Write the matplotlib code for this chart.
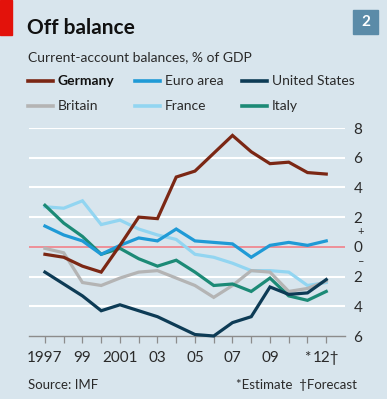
import matplotlib

matplotlib.use("Agg")
import matplotlib.pyplot as plt
from matplotlib.lines import Line2D

years = list(range(1997, 2013))

germany = [-0.5, -0.7, -1.3, -1.7, 0.1, 2.0, 1.9, 4.7, 5.1, 6.3, 7.5, 6.4, 5.6, 5.7, 5.0, 4.9]
euro_area = [1.4, 0.8, 0.4, -0.5, 0.1, 0.6, 0.4, 1.2, 0.4, 0.3, 0.2, -0.7, 0.1, 0.3, 0.1, 0.4]
united_states = [-1.7, -2.5, -3.3, -4.3, -3.9, -4.3, -4.7, -5.3, -5.9, -6.0, -5.1, -4.7, -2.7, -3.2, -3.1, -2.2]
britain = [-0.1, -0.4, -2.4, -2.6, -2.1, -1.7, -1.6, -2.1, -2.6, -3.4, -2.6, -1.6, -1.7, -3.0, -2.8, -2.3]
france = [2.7, 2.6, 3.1, 1.5, 1.8, 1.2, 0.8, 0.5, -0.5, -0.7, -1.1, -1.6, -1.6, -1.7, -2.6, -2.4]
italy = [2.8, 1.6, 0.7, -0.5, -0.1, -0.8, -1.3, -0.9, -1.7, -2.6, -2.5, -3.0, -2.1, -3.3, -3.6, -3.0]

y_ticks = [8, 6, 4, 2, 0, -2, -4, -6]
y_tick_labels = ["8", "6", "4", "2", "0", "2", "4", "6"]
x_label_years = [1997, 1999, 2001, 2003, 2005, 2007, 2009, 2011, 2012]
x_labels = ["1997", "99", "2001", "03", "05", "07", "09", "*", "12\u2020"]

BG = "#d8e5ed"
TXT = "#2a2a2a"
FONT = ["Lato", "DejaVu Sans"]
plt.rcParams["font.family"] = FONT

# (label, values, colour, bold label); listed in legend order
series = [
    ("Germany", germany, "#7b2714", True),
    ("Euro area", euro_area, "#1f9ad6", False),
    ("United States", united_states, "#0d3b55", False),
    ("Britain", britain, "#b4b4b4", False),
    ("France", france, "#92d5f1", False),
    ("Italy", italy, "#1c8a76", False),
]
draw_order = ["France", "Britain", "Italy", "Euro area", "United States", "Germany"]

W, H = 387, 399
fig = plt.figure(figsize=(W / 100, H / 100), dpi=100, facecolor=BG)

def fx(px):
    return px / W

def fy(py):
    return 1 - py / H

# red tag and chart number box
fig.patches.append(plt.Rectangle((0, fy(35)), fx(12), 35 / H, transform=fig.transFigure,
                                 color="#e3120b", zorder=5))
fig.patches.append(plt.Rectangle((fx(353), fy(34)), fx(25), 24 / H, transform=fig.transFigure,
                                 color="#5b8ba8", zorder=5))
fig.text(fx(365.5), fy(22), "2", color="white", fontsize=11, fontweight="bold",
         ha="center", va="center", zorder=6)

fig.text(fx(27), fy(28), "Off balance", fontsize=15, fontweight="bold", color="#111111",
         ha="left", va="center")
fig.text(fx(28), fy(57), "Current-account balances, % of GDP", fontsize=10, color=TXT,
         ha="left", va="center")

# legend, two rows of three
leg_x = [28, 135, 242]
leg_y = [81, 106]
for i, (name, vals, col, bold) in enumerate(series):
    x0 = leg_x[i % 3]
    y0 = leg_y[i // 3]
    fig.add_artist(Line2D([fx(x0), fx(x0 + 25)], [fy(y0), fy(y0)], color=col, lw=2.6,
                          transform=fig.transFigure))
    fig.text(fx(x0 + 30), fy(y0), name, fontsize=10, color="#111111" if bold else TXT,
             fontweight="bold" if bold else "normal", ha="left", va="center")

ax = fig.add_axes([fx(29), fy(336), fx(345 - 29), (336 - 128) / H])
ax.set_facecolor(BG)
ax.set_xlim(1996.15, 2013.0)
ax.set_ylim(-6, 8)

for yv in y_ticks:
    if yv == -6:
        continue
    ax.axhline(yv, color="white", lw=1.5, zorder=1)
ax.axhline(0, color="#e8707c", lw=1.1, zorder=2)

lookup = {s[0]: s for s in series}
for z, name in enumerate(draw_order):
    _, vals, col, _ = lookup[name]
    ax.plot(years, vals, color=col, lw=2.3, solid_joinstyle="miter", zorder=3 + z,
            clip_on=False)

for side in ["top", "left", "right"]:
    ax.spines[side].set_visible(False)
ax.spines["bottom"].set_color("#8c8c8c")
ax.spines["bottom"].set_linewidth(1.0)

ax.set_xticks(years, minor=True)
ax.set_xticks(x_label_years)
ax.set_xticklabels(x_labels)
ax.tick_params(axis="x", which="both", direction="out", length=5, width=0.9,
               color="#8c8c8c", labelsize=11, labelcolor=TXT, pad=6)

ax.yaxis.tick_right()
ax.set_yticks(y_ticks)
ax.set_yticklabels(y_tick_labels)
ax.tick_params(axis="y", length=0, pad=6, labelsize=11, labelcolor=TXT)
ax.text(1.04, 1, "+", transform=ax.get_yaxis_transform(), fontsize=8, color=TXT,
        ha="left", va="center")
ax.text(1.04, -1, "\u2013", transform=ax.get_yaxis_transform(), fontsize=8, color=TXT,
        ha="left", va="center")

fig.text(fx(28), fy(385), "Source: IMF", fontsize=9.5, color=TXT, ha="left", va="center")
fig.text(fx(357), fy(385), "*Estimate  \u2020Forecast", fontsize=9.5, color=TXT,
         ha="right", va="center")

fig.savefig("out.png", dpi=100, facecolor=BG)
